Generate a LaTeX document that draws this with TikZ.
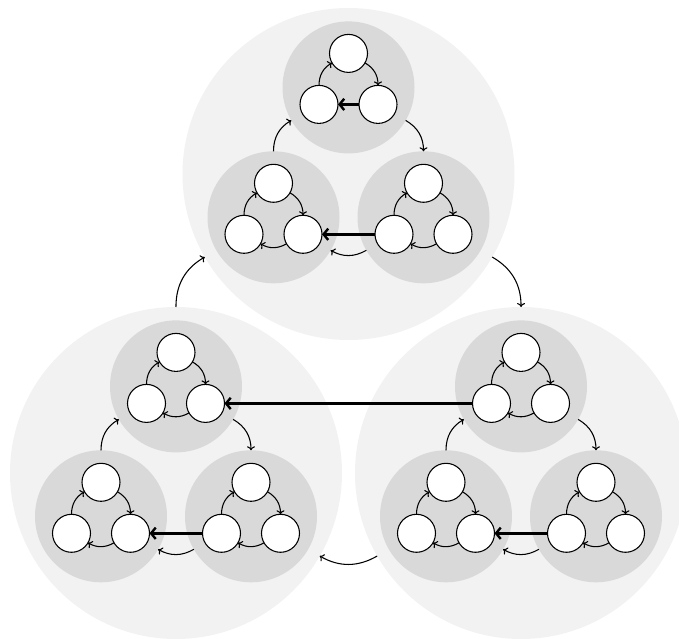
\documentclass[tikz,border=0pt]{standalone}
\usetikzlibrary{arrows.meta}
\begin{document}
\begin{tikzpicture}[x=0.75pt,y=-0.75pt,
  bigc/.style={circle,fill=white!95!black,minimum size=249pt,inner sep=0pt,outer sep=0pt},
  medc/.style={circle,fill=white!85!black,minimum size=99pt,inner sep=0pt,outer sep=0pt},
  smallc/.style={circle,draw=black,fill=white,line width=0.8pt,minimum size=28.5pt,inner sep=0pt,outer sep=0pt},
  thinarr/.style={-{To[length=3pt,width=6pt]},line width=0.8pt,bend left=30},
  thickarr/.style={-{Straight Barb[length=3.5pt,width=8.5pt,line width=1.8pt]},line width=2.4pt}]
\useasboundingbox (0,0) rectangle (679,639);
\clip (0,0) rectangle (679,639);
\foreach \b/\bx/\by in {T/348.5/174, L/176/473, R/521/473}{
  \node[bigc] (b\b) at (\bx,\by) {};
}
\foreach \b/\bx/\by in {T/348.5/174, L/176/473, R/521/473}{
  \foreach \m/\mx/\my in {T/0/-86.6, L/-75/43.3, R/75/43.3}{
    \node[medc] (m\b\m) at (\bx+\mx,\by+\my) {};
  }
}
\foreach \b/\bx/\by in {T/348.5/174, L/176/473, R/521/473}{
  \foreach \m/\mx/\my in {T/0/-86.6, L/-75/43.3, R/75/43.3}{
    \foreach \s/\sx/\sy in {T/0/-34, L/-29.5/17, R/29.5/17}{
      \node[smallc] (s\b\m\s) at (\bx+\mx+\sx,\by+\my+\sy) {};
    }
  }
}
% small-level arcs
\foreach \b in {T,L,R}{
  \foreach \m in {T,L,R}{
    \draw[thinarr] (s\b\m L) to (s\b\m T);
    \draw[thinarr] (s\b\m T) to (s\b\m R);
  }
}
\foreach \b/\m in {T/L,T/R,L/T,L/L,L/R,R/T,R/L,R/R}{
  \draw[thinarr] (s\b\m R) to (s\b\m L);
}
% medium-level arcs
\foreach \b in {T,L,R}{
  \draw[thinarr] (m\b L) to (m\b T);
  \draw[thinarr] (m\b T) to (m\b R);
  \draw[thinarr] (m\b R) to (m\b L);
}
% big-level arcs
\draw[thinarr] (bL) to (bT);
\draw[thinarr] (bT) to (bR);
\draw[thinarr] (bR) to (bL);
% thick arrows
\draw[thickarr] (sTTR) -- (sTTL);
\foreach \b in {T,L,R}{
  \draw[thickarr] (s\b RL) -- (s\b LR);
}
\draw[thickarr] (sRTL) -- (sLTR);
\end{tikzpicture}
\end{document}
